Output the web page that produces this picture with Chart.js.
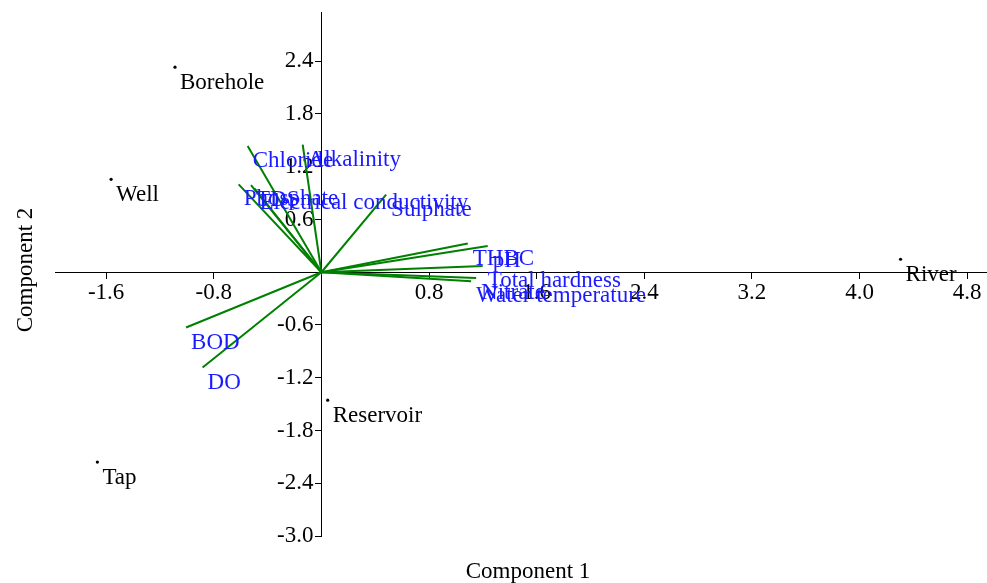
<!DOCTYPE html>
<html>
<head>
<meta charset="utf-8">
<script src="https://cdn.jsdelivr.net/npm/chart.js@4.4.1/dist/chart.umd.min.js"></script>
<style>
  html, body { margin: 0; padding: 0; background: #fff; overflow: hidden; }
  #wrap { width: 990px; height: 583px; position: relative; }
</style>
</head>
<body>
<div id="wrap"><canvas id="biplot"></canvas></div>
<script>
// Sample scores
const sites = ['Borehole', 'Well', 'Tap', 'Reservoir', 'River'];
const siteX = [-1.088, -1.563, -1.665, 0.047, 4.305];
const siteY = [2.333, 1.057, -2.159, -1.455, 0.148];

// Variable loadings (arrows from origin)
const variables = ['Chloride', 'Alkalinity', 'Phosphate', 'TDS', 'Electrical conductivity', 'Sulphate',
  'THBC', 'pH', 'Total hardness', 'Nitrate', 'Water temperature', 'BOD', 'DO'];
const varX = [-0.548, -0.139, -0.615, -0.523, -0.498, 0.481, 1.088, 1.236, 1.199, 1.150, 1.113, -1.006, -0.883];
const varY = [1.435, 1.451, 1.000, 0.992, 0.955, 0.883, 0.326, 0.299, 0.072, -0.065, -0.102, -0.628, -1.084];

const xTicks = [-1.6, -0.8, 0.8, 1.6, 2.4, 3.2, 4.0, 4.8];
const yTicks = [2.4, 1.8, 1.2, 0.6, -0.6, -1.2, -1.8, -2.4, -3.0];

const serif = '"Liberation Serif", "Times New Roman", serif';
const tickLen = 6;

const datasets = [];
variables.forEach((name, i) => {
  datasets.push({
    type: 'line',
    data: [{ x: 0, y: 0 }, { x: varX[i], y: varY[i] }],
    borderColor: '#008000',
    borderWidth: 2,
    pointRadius: 0,
    tag: name,
    tagColor: '#1a1aff'
  });
});
datasets.push({
  type: 'scatter',
  data: sites.map((s, i) => ({ x: siteX[i], y: siteY[i] })),
  backgroundColor: '#000',
  borderWidth: 0,
  pointRadius: 1.6,
  tags: sites,
  tagColor: '#000'
});

// y tick labels: Chart.js centres them on a value-positioned axis, so draw them left of it
const yLabelPlugin = {
  id: 'yLabels',
  beforeDatasetsDraw(chart) {
    const ctx = chart.ctx;
    const xs = chart.scales.x, ys = chart.scales.y;
    const x0 = xs.getPixelForValue(0) - tickLen - 2;
    ctx.save();
    ctx.font = '23px ' + serif;
    ctx.fillStyle = '#000';
    ctx.textAlign = 'right';
    ctx.textBaseline = 'middle';
    yTicks.forEach(v => ctx.fillText(v.toFixed(1), x0, ys.getPixelForValue(v)));
    ctx.restore();
  }
};

// text next to points / arrow tips
const labelPlugin = {
  id: 'tipLabels',
  afterDatasetsDraw(chart) {
    const ctx = chart.ctx;
    ctx.save();
    ctx.font = '23px ' + serif;
    ctx.textBaseline = 'middle';
    ctx.textAlign = 'left';
    chart.data.datasets.forEach((ds, i) => {
      const pts = chart.getDatasetMeta(i).data;
      ctx.fillStyle = ds.tagColor;
      if (ds.tags) {
        pts.forEach((p, j) => ctx.fillText(ds.tags[j], p.x + 5, p.y + 16));
      } else if (ds.tag) {
        const p = pts[pts.length - 1];
        ctx.fillText(ds.tag, p.x + 5, p.y + 15);
      }
    });
    ctx.restore();
  }
};

// axis titles sit at the page edges, not next to the centred axes
const titlePlugin = {
  id: 'axisTitles',
  afterDraw(chart) {
    const ctx = chart.ctx;
    ctx.save();
    ctx.font = '23px ' + serif;
    ctx.fillStyle = '#000';
    ctx.textAlign = 'center';
    ctx.textBaseline = 'middle';
    ctx.fillText('Component 1', 528, 572);
    ctx.translate(26, 270);
    ctx.rotate(-Math.PI / 2);
    ctx.fillText('Component 2', 0, 0);
    ctx.restore();
  }
};

const gridStyle = { drawOnChartArea: false, drawTicks: true, tickLength: tickLen, color: '#000' };
const borderStyle = { display: true, color: '#000', width: 1 };

new Chart(document.getElementById('biplot'), {
  type: 'scatter',
  data: { datasets },
  options: {
    responsive: true,
    maintainAspectRatio: false,
    animation: false,
    layout: { padding: { left: 55, top: 12, right: 0, bottom: 47 } },
    plugins: { legend: { display: false }, tooltip: { enabled: false } },
    scales: {
      x: {
        type: 'linear',
        min: -1.98,
        max: 4.94,
        position: { y: 0 },
        grid: gridStyle,
        border: borderStyle,
        ticks: {
          color: '#000',
          font: { family: serif, size: 23 },
          padding: 1,
          maxRotation: 0,
          callback: v => v.toFixed(1)
        },
        afterBuildTicks: s => { s.ticks = xTicks.map(v => ({ value: v })); }
      },
      y: {
        type: 'linear',
        min: -3.0,
        max: 2.96,
        position: { x: 0 },
        grid: gridStyle,
        border: borderStyle,
        ticks: { display: false },
        afterBuildTicks: s => { s.ticks = yTicks.map(v => ({ value: v })); }
      }
    }
  },
  plugins: [yLabelPlugin, labelPlugin, titlePlugin]
});
</script>
</body>
</html>
